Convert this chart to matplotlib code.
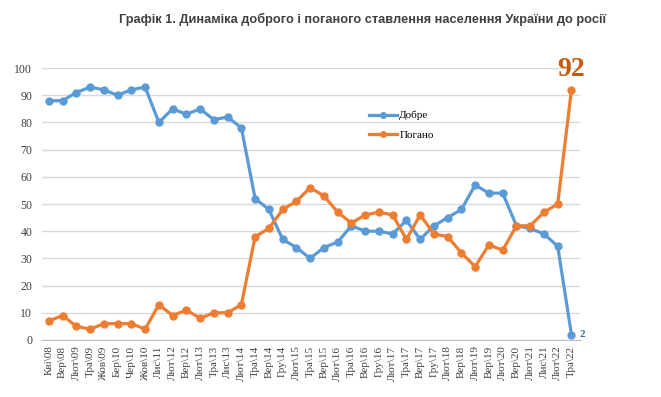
import matplotlib.pyplot as plt

# data
labels = ['Кві\\08', 'Вер\\08', 'Лют\\09', 'Тра\\09', 'Жов\\09', 'Бер\\10', 'Чер\\10', 'Жов\\10',
          'Лис\\11', 'Лют\\12', 'Вер\\12', 'Лют\\13', 'Тра\\13', 'Лис\\13', 'Лют\\14', 'Тра\\14',
          'Вер\\14', 'Гру\\14', 'Лют\\15', 'Тра\\15', 'Вер\\15', 'Лют\\16', 'Тра\\16', 'Вер\\16',
          'Гру\\16', 'Лют\\17', 'Тра\\17', 'Вер\\17', 'Гру\\17', 'Лют\\18', 'Вер\\18', 'Лют\\19',
          'Вер\\19', 'Лют\\20', 'Вер\\20', 'Лют\\21', 'Лис\\21', 'Лют\\22', 'Тра\\22']
good = [88, 88, 91, 93, 92, 90, 92, 93, 80, 85, 83, 85, 81, 82, 78, 52, 48, 37, 34, 30,
        34, 36, 42, 40, 40, 39, 44, 37, 42, 45, 48, 57, 54, 54, 42, 41, 39, 34.5, 2]
bad = [7, 9, 5, 4, 6, 6, 6, 4, 13, 9, 11, 8, 10, 10, 13, 38, 41, 48, 51, 56,
       53, 47, 43, 46, 47, 46, 37, 46, 39, 38, 32, 27, 35, 33, 42, 42, 47, 50, 92]

blue = '#5B9BD5'
orange = '#ED7D31'
serif = 'Liberation Serif'

fig = plt.figure(figsize=(6.61, 3.97), dpi=100)
ax = fig.add_axes([0.0635, 0.1436, 0.8135, 0.685])

x = list(range(len(labels)))
ax.plot(x, good, color=blue, lw=2.3, marker='o', ms=5, label='Добре', clip_on=False, zorder=3)
ax.plot(x, bad, color=orange, lw=2.3, marker='o', ms=5, label='Погано', clip_on=False, zorder=3)

ax.set_xlim(-0.5, len(labels) - 0.4)
ax.set_ylim(0, 100)
ax.set_yticks(range(0, 101, 10))
ax.set_xticks(x)
ax.set_xticklabels(labels, rotation=90, fontsize=8, family=serif, color='#404040')
for t in ax.get_yticklabels():
    t.set_family(serif)
    t.set_fontsize(8.5)
    t.set_color('#404040')
ax.tick_params(axis='x', length=0, pad=4)
ax.tick_params(axis='y', length=0, pad=7)

ax.grid(axis='y', color='#d9d9d9', lw=1)
ax.set_axisbelow(True)
for s in ['top', 'right', 'left']:
    ax.spines[s].set_visible(False)
ax.spines['bottom'].set_color('#bfbfbf')

leg = ax.legend(loc='upper left', bbox_to_anchor=(0.59, 0.88), frameon=False,
                prop={'family': serif, 'size': 8}, labelspacing=0.9, handlelength=2.5,
                handletextpad=0.2, markerscale=0.8)

ax.text(x[-1], bad[-1] + 3, str(bad[-1]), color='#C55A11', fontsize=20, fontweight='bold',
        family=serif, ha='center', va='bottom')
ax.text(x[-1] + 0.6, good[-1], str(good[-1]), color='#2E75B6', fontsize=8, fontweight='bold',
        family=serif, ha='left', va='center')

fig.text(0.548, 0.952, 'Графік 1. Динаміка доброго і поганого ставлення населення України до росії',
         ha='center', va='center', fontsize=9.2, fontweight='bold', color='#404040',
         family='Liberation Sans')

plt.savefig('out.png')
